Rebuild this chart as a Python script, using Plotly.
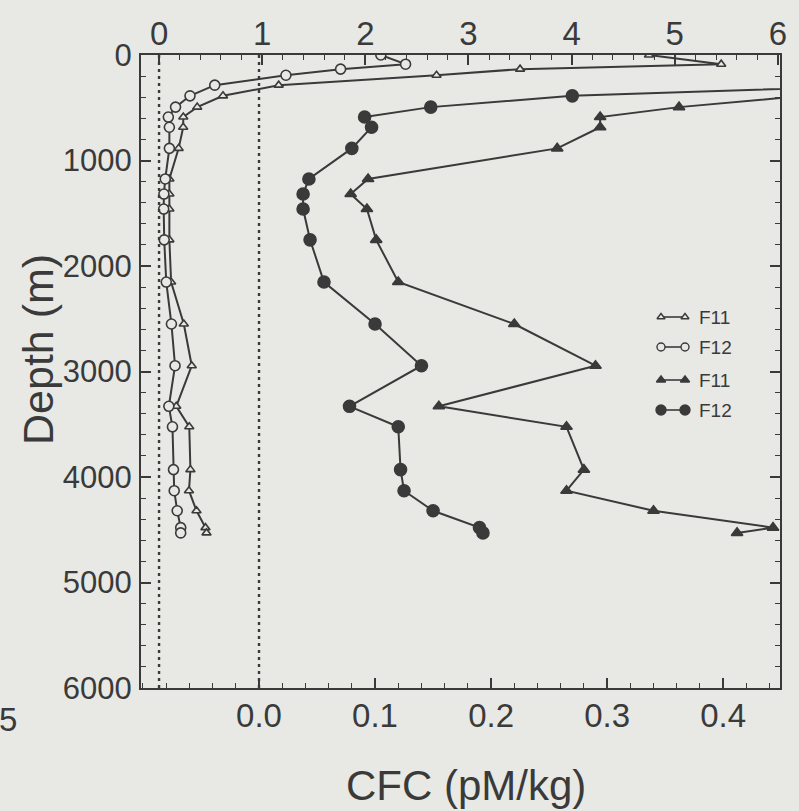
import plotly.graph_objects as go

# ---------------- data ----------------
# sample depths (m) shared by the profiles
depth_open = [0, 87, 134, 192, 286, 387, 494, 588, 685, 885, 1175, 1318, 1460, 1752, 2152,
              2550, 2945, 3330, 3524, 3930, 4130, 4320, 4480, 4530]
# open symbols, read on the top axis (0-6 pM/kg)
f11_open = [4.75, 5.45, 3.5, 2.69, 1.16, 0.62, 0.37, 0.235, 0.234, 0.19, 0.10, 0.10, 0.10, 0.10, 0.117,
            0.24, 0.317, 0.167, 0.293, 0.304, 0.29, 0.363, 0.45, 0.46]
f12_open = [2.15, 2.39, 1.76, 1.23, 0.54, 0.30, 0.16, 0.09, 0.10, 0.10, 0.06, 0.047, 0.045, 0.05, 0.07,
            0.12, 0.155, 0.095, 0.13, 0.14, 0.147, 0.176, 0.21, 0.21]

# filled symbols, read on the bottom axis (pM/kg)
depth_fill = [286, 387, 494, 588, 685, 885, 1175, 1318, 1460, 1752, 2152,
              2550, 2945, 3330, 3524, 3930, 4130, 4320, 4480, 4530]
f11_fill = [0.70, 0.47, 0.362, 0.294, 0.294, 0.257, 0.094, 0.079, 0.093, 0.101, 0.12,
            0.22, 0.29, 0.155, 0.265, 0.28, 0.265, 0.34, 0.443, 0.412]
f12_fill = [0.55, 0.27, 0.148, 0.091, 0.097, 0.080, 0.043, 0.038, 0.038, 0.044, 0.056,
            0.10, 0.14, 0.078, 0.12, 0.122, 0.125, 0.15, 0.19, 0.193]

top_ticks = [0, 1, 2, 3, 4, 5, 6]
bottom_ticks = [0.0, 0.1, 0.2, 0.3, 0.4]
depth_ticks = [0, 1000, 2000, 3000, 4000, 5000, 6000]
legend_names = ["F11", "F12", "F11", "F12"]

# ---------------- style ----------------
BG = "#e8e9e4"
INK = "#3a3a3a"
FONT = "Liberation Sans, Arial, sans-serif"
W, H = 799, 811
L, R, T, B = 141, 780, 55, 688
pw, ph = R - L, B - T

fig = go.Figure()

def add(x, y, xa, sym, size, fill, name):
    fig.add_trace(go.Scatter(
        x=x, y=y, xaxis=xa, yaxis="y", mode="lines+markers", name=name,
        line=dict(color=INK, width=2),
        marker=dict(symbol=sym, size=size, color=(INK if fill else BG),
                    line=dict(color=INK, width=1.6)),
        showlegend=False, cliponaxis=True))

add(f11_open, depth_open, "x2", "triangle-up", 8, False, "F11")
add(f12_open, depth_open, "x2", "circle", 10, False, "F12")
add(f11_fill, depth_fill, "x", "triangle-up", 10, True, "F11")
add(f12_fill, depth_fill, "x", "circle", 12, True, "F12")

# custom legend keys (marker - line - marker) on an overlay axis
leg_y = [1 - (317 - T) / ph, 1 - (347 - T) / ph, 1 - (380 - T) / ph, 1 - (410 - T) / ph]
leg_x = [(661 - L) / pw, (685 - L) / pw]
leg_sym = [("triangle-up", 7, False), ("circle", 8, False), ("triangle-up", 8, True), ("circle", 10, True)]
for i, (yy, (s, sz, f)) in enumerate(zip(leg_y, leg_sym)):
    fig.add_trace(go.Scatter(
        x=leg_x, y=[yy, yy], xaxis="x3", yaxis="y3", mode="lines+markers",
        line=dict(color=INK, width=1.6),
        marker=dict(symbol=s, size=sz, color=(INK if f else BG), line=dict(color=INK, width=1.4)),
        showlegend=False, hoverinfo="skip"))
    fig.add_annotation(x=(697 - L) / pw, y=yy, xref="x3", yref="y3", text=legend_names[i],
                       showarrow=False, xanchor="left", yanchor="middle",
                       font=dict(family=FONT, size=19, color=INK))

# dotted zero lines
fig.add_shape(type="line", xref="x2", yref="y", x0=0, x1=0, y0=0, y1=6000,
              line=dict(color=INK, width=2.4, dash="3px,4px"))
fig.add_shape(type="line", xref="x", yref="y", x0=0, x1=0, y0=0, y1=6000,
              line=dict(color=INK, width=2.4, dash="3px,4px"))

axcommon = dict(showgrid=False, zeroline=False, showline=True, linecolor=INK, linewidth=2.2,
                ticks="inside", tickcolor=INK, tickwidth=1.6, ticklen=10, automargin=False)

fig.update_layout(
    width=W, height=H, paper_bgcolor=BG, plot_bgcolor=BG,
    margin=dict(l=L, r=W - R, t=T, b=H - B, pad=0),
    showlegend=False,
    xaxis=dict(range=[-0.1017, 0.449], tickvals=bottom_ticks,
               ticktext=[f"{v:.1f}" for v in bottom_ticks],
               tickfont=dict(family=FONT, size=33, color=INK), ticklabelstandoff=-3,
               minor=dict(ticks="inside", dtick=0.02, tick0=0, ticklen=5, tickwidth=1.4, tickcolor=INK),
               **axcommon),
    xaxis2=dict(range=[-0.175, 6.02], overlaying="x", side="top", tickvals=top_ticks,
                tickfont=dict(family=FONT, size=33, color=INK), ticklabelstandoff=-5,
                minor=dict(ticks="inside", dtick=0.2, tick0=0, ticklen=5, tickwidth=1.4, tickcolor=INK),
                **axcommon),
    yaxis=dict(range=[6000, 0], tickvals=depth_ticks, mirror="ticks",
               tickfont=dict(family=FONT, size=31, color=INK), ticklabelstandoff=1,
               minor=dict(ticks="inside", dtick=200, tick0=0, ticklen=5, tickwidth=1.4, tickcolor=INK),
               **axcommon),
    xaxis3=dict(range=[0, 1], domain=[0, 1], overlaying="x", visible=False, fixedrange=True),
    yaxis3=dict(range=[0, 1], domain=[0, 1], overlaying="y", visible=False, fixedrange=True),
)

fig.add_annotation(text="Depth (m)", xref="paper", yref="paper",
                   x=(38 - L) / pw, y=1 - (350 - T) / ph, xanchor="center", yanchor="middle",
                   textangle=-90, showarrow=False,
                   font=dict(family=FONT, size=43, color=INK))
fig.add_annotation(text="CFC (pM/kg)", xref="paper", yref="paper",
                   x=(466 - L) / pw, y=1 - (786 - T) / ph, xanchor="center", yanchor="middle",
                   showarrow=False, font=dict(family=FONT, size=42, color=INK))
fig.add_annotation(text="5", xref="paper", yref="paper",
                   x=(8 - L) / pw, y=1 - (719 - T) / ph, xanchor="center", yanchor="middle",
                   showarrow=False, font=dict(family=FONT, size=33, color=INK))

fig.write_html("out.html")
